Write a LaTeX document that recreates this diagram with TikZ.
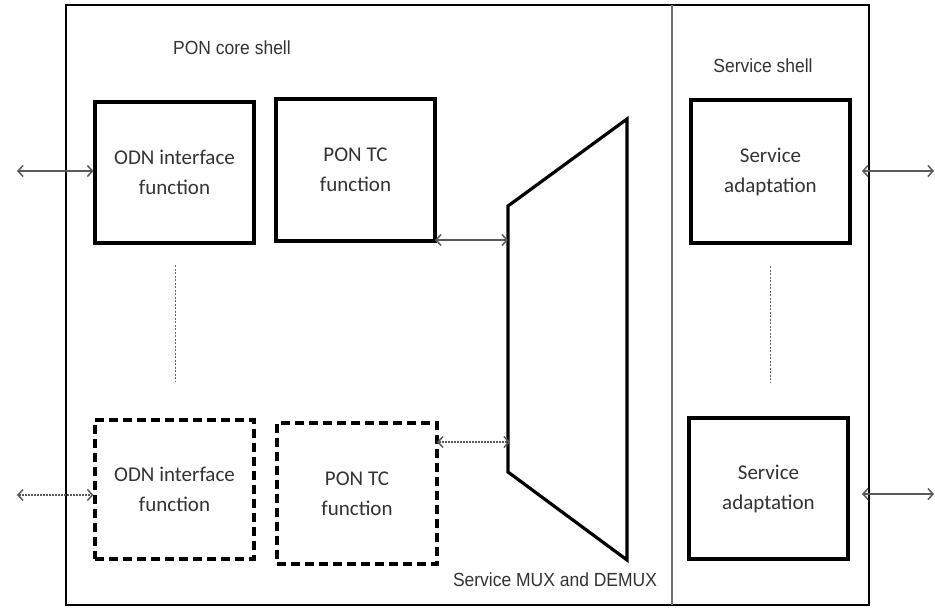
\documentclass[tikz,border=0pt]{standalone}
\usepackage{fontspec}
\setmainfont{Carlito}
\newfontfamily\labelfont[FakeStretch=0.92]{Liberation Sans}
\usetikzlibrary{arrows.meta}
\begin{document}
\begin{tikzpicture}[x=1pt,y=-1pt,
  fnbox/.style={draw=black,line width=3.2pt,minimum width=159pt,minimum height=141pt,
    align=center,font=\fontsize{21}{30}\selectfont,text=black!80,inner sep=0pt},
  dashbox/.style={fnbox,dash pattern=on 9pt off 5pt},
  biarrow/.style={draw=black!65,line width=1.5pt,{Straight Barb[length=5pt,width=11pt]}-{Straight Barb[length=5pt,width=11pt]}},
  dotarrow/.style={biarrow,dash pattern=on 2pt off 1pt},
  gap/.style={draw=black!60,line width=1pt,dash pattern=on 2pt off 1.5pt},
  shelltext/.style={font=\labelfont\fontsize{19}{22}\selectfont,text=black!80,inner sep=0pt}]
\useasboundingbox (0,0) rectangle (935,608);
\fill[white] (0,0) rectangle (935,608);

% outer frame and the divider between the two shells
\draw[line width=2.6pt] (66,5) rectangle (869,605);
\draw[black!55,line width=1.6pt] (672,5) -- (672,605);

% shell titles
\node[shelltext] (coreT) at (232,48) {PON core shell};
\node[shelltext] (servT) at (763,66) {Service shell};
\node[shelltext] (muxT) at (555,580) {Service MUX and DEMUX};

% function blocks
\node[fnbox] (odn1) at (174.5,172.5) {ODN interface\\function};
\node[fnbox,minimum height=142pt] (ptc1) at (355.5,170) {PON TC\\function};
\node[dashbox,minimum height=139pt] (odn2) at (174.5,489.5) {ODN interface\\function};
\node[dashbox,minimum width=160pt] (ptc2) at (357,493.5) {PON TC\\function};
\node[fnbox,minimum height=143pt] (sa1) at (770.5,171.5) {Service\\adaptation};
\node[fnbox] (sa2) at (768.5,488.5) {Service\\adaptation};

% service multiplexer
\coordinate (mTL) at (508,206);
\coordinate (mTR) at (627,119);
\coordinate (mBR) at (627,560);
\coordinate (mBL) at (508,472);
\draw[line width=3.2pt,line join=miter] (mTL) -- (mTR) -- (mBR) -- (mBL) -- cycle;

% free ends of the external interfaces
\coordinate (odnExt1) at (17,171);
\coordinate (odnExt2) at (17,495);
\coordinate (saIn1) at (862,171);
\coordinate (saExt1) at (934,171);
\coordinate (saIn2) at (862,494);
\coordinate (saExt2) at (934,494);
\coordinate (ptcOut1) at (435,240);
\coordinate (muxIn1) at (508,240);
\coordinate (ptcOut2) at (437,442);
\coordinate (muxIn2) at (510,442);

% connectors
\draw[biarrow] (odnExt1) -- (odn1.west |- odnExt1);
\draw[dotarrow] (odnExt2) -- (odn2.west |- odnExt2);
\draw[biarrow] (ptcOut1) -- (muxIn1);
\draw[dotarrow] (ptcOut2) -- (muxIn2);
\draw[biarrow] (saIn1) -- (saExt1);
\draw[biarrow] (saIn2) -- (saExt2);

% repetition marks between the first and last blocks
\coordinate (g1a) at (175,265);
\coordinate (g1b) at (175,382);
\coordinate (g2a) at (770,266);
\coordinate (g2b) at (770,382);
\draw[gap] (g1a) -- (g1b);
\draw[gap] (g2a) -- (g2b);
\end{tikzpicture}
\end{document}
